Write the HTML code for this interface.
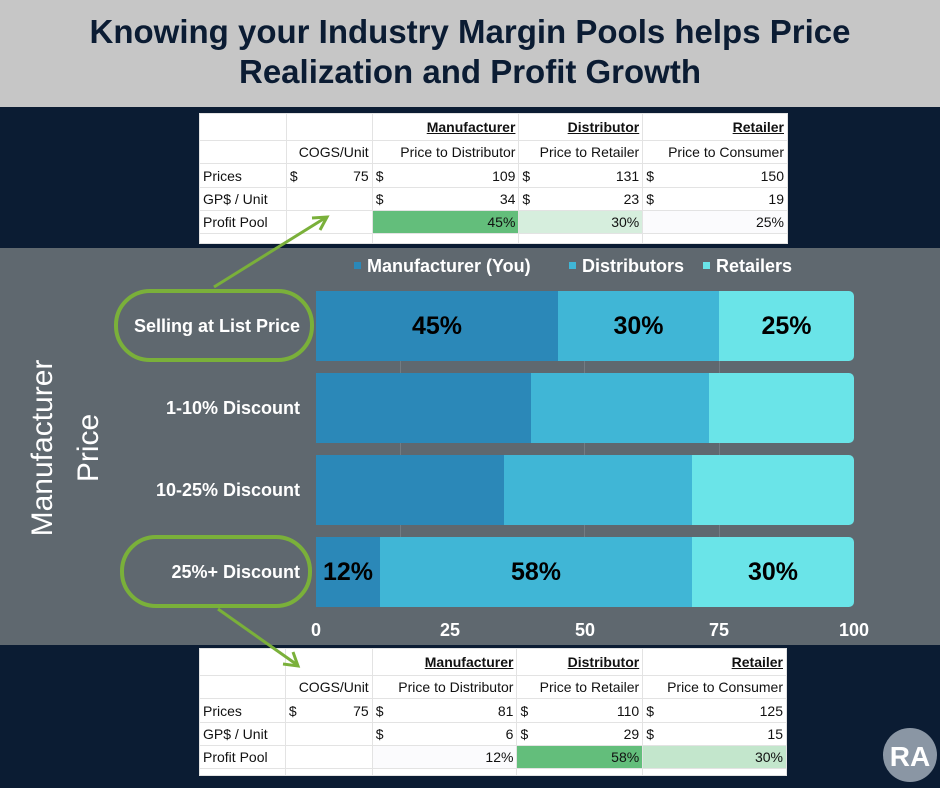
<!DOCTYPE html>
<html><head><meta charset="utf-8"><style>
*{margin:0;padding:0;box-sizing:border-box}
body{width:940px;height:788px;background:#0b1c33;position:relative;overflow:hidden;font-family:"Liberation Sans",sans-serif}
.title{position:absolute;left:0;top:0;width:940px;height:107px;background:#c6c6c6;color:#0b1c33;font-weight:bold;font-size:33px;text-align:center;line-height:40px;padding-top:12px}
.tbl{position:absolute;background:#fff;font-family:"Liberation Sans Narrow","Liberation Sans",sans-serif;font-size:14px;color:#111}
.tbl table{border-collapse:collapse;width:100%}
.tbl td{border:1px solid #e3e3e3;padding:0 3px;white-space:nowrap;overflow:hidden}
.r{text-align:right}
.u{text-decoration:underline;font-weight:bold}
.d{display:flex;justify-content:space-between}
.panel{position:absolute;left:0;top:248px;width:940px;height:397px;background:#5f686f}
.bar{position:absolute;left:316px;width:538px;height:70px;display:flex;border-radius:0 5px 5px 0;overflow:hidden}
.bar div{height:100%;display:flex;align-items:center;justify-content:center;font-weight:bold;font-size:25px;color:#000}
.m{background:#2b88b8}.ds{background:#40b6d6}.rt{background:#6ae4e8}
.lab{position:absolute;right:640px;color:#fff;font-weight:bold;font-size:18px;text-align:right;white-space:nowrap}
.tick{position:absolute;top:620px;color:#fff;font-weight:bold;font-size:18px;transform:translateX(-50%)}
.leg{position:absolute;top:256px;color:#fff;font-weight:bold;font-size:18px;white-space:nowrap}
.leg span{display:inline-block;width:7px;height:7px;margin:0 6px 3px 0}
</style></head><body>
<div class="title">Knowing your Industry Margin Pools helps Price<br>Realization and Profit Growth</div>

<div class="tbl" style="left:199px;top:113px;width:589px;height:130px">
<table>
<colgroup><col style="width:87px"><col style="width:86px"><col style="width:147px"><col style="width:124px"><col style="width:145px"></colgroup>
<tr style="height:27px"><td></td><td></td><td class="r"><span class="u">Manufacturer</span></td><td class="r"><span class="u">Distributor</span></td><td class="r"><span class="u">Retailer</span></td></tr>
<tr style="height:23px"><td></td><td class="r">COGS/Unit</td><td class="r">Price to Distributor</td><td class="r">Price to Retailer</td><td class="r">Price to Consumer</td></tr>
<tr style="height:24px"><td>Prices</td><td><div class="d"><span>$</span><span>75</span></div></td><td><div class="d"><span>$</span><span>109</span></div></td><td><div class="d"><span>$</span><span>131</span></div></td><td><div class="d"><span>$</span><span>150</span></div></td></tr>
<tr style="height:23px"><td>GP$ / Unit</td><td></td><td><div class="d"><span>$</span><span>34</span></div></td><td><div class="d"><span>$</span><span>23</span></div></td><td><div class="d"><span>$</span><span>19</span></div></td></tr>
<tr style="height:23px"><td>Profit Pool</td><td></td><td class="r" style="background:#63be7b">45%</td><td class="r" style="background:#d6eedd">30%</td><td class="r" style="background:#fbfbfd">25%</td></tr>
<tr style="height:10px"><td></td><td></td><td></td><td></td><td></td></tr>
</table></div>

<div class="panel"></div>
<div class="leg" style="left:354px"><span style="background:#2b88b8"></span>Manufacturer (You)</div>
<div class="leg" style="left:569px"><span style="background:#40b6d6"></span>Distributors</div>
<div class="leg" style="left:703px"><span style="background:#6ae4e8"></span>Retailers</div>

<div style="position:absolute;left:400px;top:361px;width:1px;height:176px;background:#737c83"></div>
<div style="position:absolute;left:584px;top:361px;width:1px;height:176px;background:#737c83"></div>
<div style="position:absolute;left:719px;top:361px;width:1px;height:176px;background:#737c83"></div>

<div class="bar" style="top:291px"><div class="m" style="width:242px">45%</div><div class="ds" style="width:161px">30%</div><div class="rt" style="flex:1">25%</div></div>
<div class="bar" style="top:373px"><div class="m" style="width:215px"></div><div class="ds" style="width:178px"></div><div class="rt" style="flex:1"></div></div>
<div class="bar" style="top:455px"><div class="m" style="width:188px"></div><div class="ds" style="width:188px"></div><div class="rt" style="flex:1"></div></div>
<div class="bar" style="top:537px"><div class="m" style="width:64px">12%</div><div class="ds" style="width:312px">58%</div><div class="rt" style="flex:1">30%</div></div>

<div class="lab" style="top:316px">Selling at List Price</div>
<div class="lab" style="top:398px">1-10% Discount</div>
<div class="lab" style="top:480px">10-25% Discount</div>
<div class="lab" style="top:562px">25%+ Discount</div>

<div style="position:absolute;left:114px;top:289px;width:200px;height:73px;border:4px solid #7ab03a;border-radius:36px"></div>
<div style="position:absolute;left:120px;top:535px;width:192px;height:73px;border:4px solid #7ab03a;border-radius:36px"></div>

<div class="tick" style="left:316px">0</div>
<div class="tick" style="left:450px">25</div>
<div class="tick" style="left:585px">50</div>
<div class="tick" style="left:719px">75</div>
<div class="tick" style="left:854px">100</div>

<div class="tbl" style="left:199px;top:648px;width:588px;height:127px">
<table>
<colgroup><col style="width:86px"><col style="width:87px"><col style="width:145px"><col style="width:126px"><col style="width:144px"></colgroup>
<tr style="height:27px"><td></td><td></td><td class="r"><span class="u">Manufacturer</span></td><td class="r"><span class="u">Distributor</span></td><td class="r"><span class="u">Retailer</span></td></tr>
<tr style="height:23px"><td></td><td class="r">COGS/Unit</td><td class="r">Price to Distributor</td><td class="r">Price to Retailer</td><td class="r">Price to Consumer</td></tr>
<tr style="height:24px"><td>Prices</td><td><div class="d"><span>$</span><span>75</span></div></td><td><div class="d"><span>$</span><span>81</span></div></td><td><div class="d"><span>$</span><span>110</span></div></td><td><div class="d"><span>$</span><span>125</span></div></td></tr>
<tr style="height:23px"><td>GP$ / Unit</td><td></td><td><div class="d"><span>$</span><span>6</span></div></td><td><div class="d"><span>$</span><span>29</span></div></td><td><div class="d"><span>$</span><span>15</span></div></td></tr>
<tr style="height:23px"><td>Profit Pool</td><td></td><td class="r" style="background:#fbfbfd">12%</td><td class="r" style="background:#63be7b">58%</td><td class="r" style="background:#c3e6cc">30%</td></tr>
<tr style="height:7px"><td></td><td></td><td></td><td></td><td></td></tr>
</table></div>

<svg style="position:absolute;left:0;top:0" width="940" height="788">
<g stroke="#7ab03a" stroke-width="3" fill="none">
<line x1="214" y1="287" x2="325" y2="218"/>
<polyline points="312,218 327,217 320,230"/>
<line x1="218" y1="609" x2="296" y2="664"/>
<polyline points="283,664 298,666 293,652"/>
</g>
<text x="0" y="0" transform="translate(52,448) rotate(-90)" fill="#fff" font-size="30" font-family="Liberation Sans" text-anchor="middle">Manufacturer</text>
<text x="0" y="0" transform="translate(98,448) rotate(-90)" fill="#fff" font-size="30" font-family="Liberation Sans" text-anchor="middle">Price</text>
<circle cx="910" cy="755" r="27" fill="#8a96a4"/>
<text x="910" y="766" fill="#fff" font-size="28" font-weight="bold" font-family="Liberation Sans Narrow, Liberation Sans" text-anchor="middle">RA</text>
</svg>
</body></html>
